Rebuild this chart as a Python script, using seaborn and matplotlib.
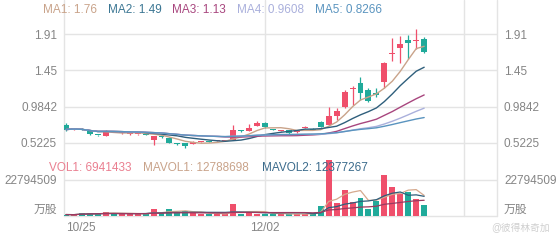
import numpy as np
import pandas as pd
import matplotlib
matplotlib.use("Agg")
import matplotlib.pyplot as plt
import seaborn as sns

# ---------------- data ----------------
tick_labels = ["10/25", "12/02"]
tick_index = [0, 25]

opens = [0.750, 0.699, 0.705, 0.680, 0.625, 0.609, 0.667, 0.643, 0.630, 0.632,
         0.628, 0.558, 0.615, 0.584, 0.515, 0.522, 0.513, 0.530, 0.538, 0.540,
         0.548, 0.558, 0.680, 0.673, 0.737, 0.780, 0.700, 0.676, 0.680, 0.656,
         0.715, 0.700, 0.792, 0.750, 0.865, 0.976, 1.207, 1.283, 1.198, 1.155,
         1.304, 1.654, 1.731, 1.837, 1.830, 1.850]
closes = [0.692, 0.705, 0.686, 0.635, 0.618, 0.673, 0.660, 0.650, 0.641, 0.637,
          0.622, 0.609, 0.590, 0.519, 0.508, 0.481, 0.538, 0.535, 0.534, 0.546,
          0.553, 0.686, 0.672, 0.712, 0.772, 0.720, 0.692, 0.681, 0.645, 0.664,
          0.722, 0.692, 0.728, 0.865, 0.933, 1.176, 1.219, 1.155, 1.057, 1.134,
          1.539, 1.667, 1.786, 1.803, 1.840, 1.687]
highs = [0.776, 0.715, 0.712, 0.686, 0.628, 0.680, 0.670, 0.655, 0.645, 0.641,
         0.632, 0.612, 0.620, 0.590, 0.522, 0.525, 0.542, 0.540, 0.542, 0.550,
         0.558, 0.746, 0.690, 0.759, 0.800, 0.785, 0.705, 0.686, 0.684, 0.668,
         0.740, 0.706, 0.800, 0.984, 0.967, 1.198, 1.249, 1.364, 1.223, 1.223,
         1.560, 1.863, 1.888, 1.901, 1.974, 1.872]
lows = [0.673, 0.690, 0.680, 0.628, 0.612, 0.605, 0.655, 0.638, 0.626, 0.628,
        0.617, 0.494, 0.585, 0.515, 0.500, 0.455, 0.508, 0.526, 0.530, 0.536,
        0.544, 0.553, 0.665, 0.668, 0.733, 0.715, 0.688, 0.672, 0.640, 0.652,
        0.710, 0.688, 0.722, 0.745, 0.810, 0.963, 1.006, 1.070, 1.044, 1.108,
        1.223, 1.572, 1.543, 1.594, 1.718, 1.667]
volumes = [600000, 500000, 1500000, 1500000, 1500000, 2100000, 1300000, 1000000,
           1000000, 1000000, 1200000, 4300000, 1500000, 4300000, 2100000, 2800000,
           1500000, 800000, 800000, 900000, 1000000, 7100000, 1000000, 2500000,
           1200000, 800000, 900000, 1000000, 1200000, 800000, 1000000, 1300000,
           6200000, 35800000, 8000000, 16500000, 8600000, 11200000, 4100000,
           9000000, 25700000, 18000000, 13900000, 14800000, 10700000, 6941433]

ma_names = ["MA1", "MA2", "MA3", "MA4", "MA5"]
ma_periods = [5, 10, 20, 30, 60]
ma_values_text = ["1.76", "1.49", "1.13", "0.9608", "0.8266"]
ma_colors = ["#c9a38a", "#2f5f7c", "#a8467e", "#aab0dc", "#5a94bf"]
ma_label_colors = ["#c9a38a", "#3b7693", "#a8467e", "#aab0dc", "#5a94bf"]

vol_ma_names = ["MAVOL1", "MAVOL2", "MAVOL3"]
vol_ma_periods = [5, 10, 20]
vol_ma_colors = ["#d6a98e", "#2f5f7c", "#9a3a60"]
vol_legend_names = ["VOL1", "MAVOL1", "MAVOL2"]
vol_legend_values = ["6941433", "12788698", "12377267"]
vol_legend_colors = ["#ea7f90", "#c9a38a", "#3b6b8c"]

price_ticks = [0.5225, 0.9842, 1.45, 1.91]
price_tick_labels = ["0.5225", "0.9842", "1.45", "1.91"]
vol_ticks = [0, 22794509]
vol_tick_labels = ["万股", "22794509"]

UP = "#ef4f6b"
DOWN = "#20aa9a"
GRID = "#e4e4e4"
TXT = "#858585"

# ---------------- style ----------------
sns.set_theme(style="white")
plt.rcParams["font.family"] = ["Liberation Sans", "Noto Sans CJK SC"]

W, H = 560, 240
fig = plt.figure(figsize=(W / 100, H / 100), dpi=100)
fig.patch.set_facecolor("white")

def fx(px):
    return px / W

def fy(py):
    return 1 - py / H

XMIN, XMAX = -0.25, 54.15
L, R = 64, 497

# background axes for full-height vertical lines
bg = fig.add_axes([fx(L), fy(216), fx(R - L), fy(0) - fy(216)], zorder=0)
bg.set_xlim(XMIN, XMAX)
bg.set_ylim(0, 1)
bg.axis("off")
for xv in [XMIN, 25, 50, XMAX]:
    bg.axvline(xv, color=GRID, lw=1.0, clip_on=False)

df = pd.DataFrame({"idx": np.arange(len(closes)), "open": opens, "close": closes,
                   "high": highs, "low": lows, "vol": volumes})
df["up"] = df["close"] >= df["open"]
colors = np.where(df["up"], UP, DOWN)

# ---------------- main price panel ----------------
ax = fig.add_axes([fx(L), fy(150), fx(R - L), fy(25) - fy(150)], zorder=2)
ax.patch.set_alpha(0)
ax.set_xlim(XMIN, XMAX)
ax.set_ylim(0.430, 2.029)
for t in price_ticks:
    ax.axhline(t, color=GRID, lw=1.0, zorder=0)

ax.vlines(df["idx"], df["low"], df["high"], colors=colors, lw=0.9, zorder=3)
body_bottom = np.minimum(df["open"], df["close"])
body_h = np.maximum(np.abs(df["close"] - df["open"]), 0.012)
ax.bar(df["idx"], body_h, bottom=body_bottom, width=0.75, color=colors,
       linewidth=0, zorder=4)

ma_long = []
for name, p in zip(ma_names, ma_periods):
    s = df["close"].rolling(p, min_periods=1).mean()
    ma_long.append(pd.DataFrame({"idx": df["idx"], "value": s, "name": name}))
ma_long = pd.concat(ma_long, ignore_index=True)
sns.lineplot(data=ma_long, x="idx", y="value", hue="name",
             palette=dict(zip(ma_names, ma_colors)), hue_order=ma_names,
             legend=False, lw=1.0, ax=ax, zorder=5)

ax.set_xticks([])
ax.set_yticks(price_ticks)
ax.set_yticklabels(price_tick_labels)
ax.tick_params(axis="y", length=0, labelleft=True, labelright=True, pad=5,
               labelsize=8.5, labelcolor=TXT)
ax.set_xlabel("")
ax.set_ylabel("")
for s in ax.spines.values():
    s.set_visible(False)

# ---------------- volume panel ----------------
axv = fig.add_axes([fx(L), fy(215.5), fx(R - L), fy(158) - fy(215.5)], zorder=2)
axv.patch.set_alpha(0)
axv.set_xlim(XMIN, XMAX)
axv.set_ylim(0, 36.9e6)
axv.axhline(vol_ticks[1], color=GRID, lw=1.0, zorder=0)
axv.axhline(0, color=GRID, lw=1.0, zorder=0, clip_on=False)
axv.bar(df["idx"], df["vol"], width=0.75, color=colors, linewidth=0, zorder=3)

vol_long = []
for name, p in zip(vol_ma_names, vol_ma_periods):
    s = df["vol"].rolling(p, min_periods=1).mean()
    vol_long.append(pd.DataFrame({"idx": df["idx"], "value": s, "name": name}))
vol_long = pd.concat(vol_long, ignore_index=True)
sns.lineplot(data=vol_long, x="idx", y="value", hue="name",
             palette=dict(zip(vol_ma_names, vol_ma_colors)), hue_order=vol_ma_names,
             legend=False, lw=0.9, ax=axv, zorder=5)

axv.set_yticks(vol_ticks)
axv.set_yticklabels(vol_tick_labels)
axv.tick_params(axis="y", length=0, labelleft=True, labelright=True, pad=5,
                labelsize=8.5, labelcolor=TXT)
for tk in axv.yaxis.get_major_ticks()[:1]:
    tk.label1.set_va("bottom")
    tk.label2.set_va("bottom")
axv.set_xticks(tick_index)
axv.set_xticklabels(tick_labels)
axv.tick_params(axis="x", length=0, pad=5, labelsize=8.5, labelcolor=TXT)
axv.get_xticklabels()[0].set_ha("left")
axv.set_xlabel("")
axv.set_ylabel("")
for s in axv.spines.values():
    s.set_visible(False)

# ---------------- legends ----------------
ma_x = [43, 108, 172, 237, 315]
for xp, n, v, c in zip(ma_x, ma_names, ma_values_text, ma_label_colors):
    fig.text(fx(xp), fy(10), f"{n}: {v}", color=c, fontsize=8.5, va="center", ha="left")
vol_x = [49, 143, 262]
for xp, n, v, c in zip(vol_x, vol_legend_names, vol_legend_values, vol_legend_colors):
    fig.text(fx(xp), fy(168), f"{n}: {v}", color=c, fontsize=8.5, va="center", ha="left")

fig.text(fx(521), fy(228), "@彼得林奇加", color="#cfcfcf", fontsize=7, va="center", ha="center")

fig.savefig("out.png", dpi=100, facecolor="white")
